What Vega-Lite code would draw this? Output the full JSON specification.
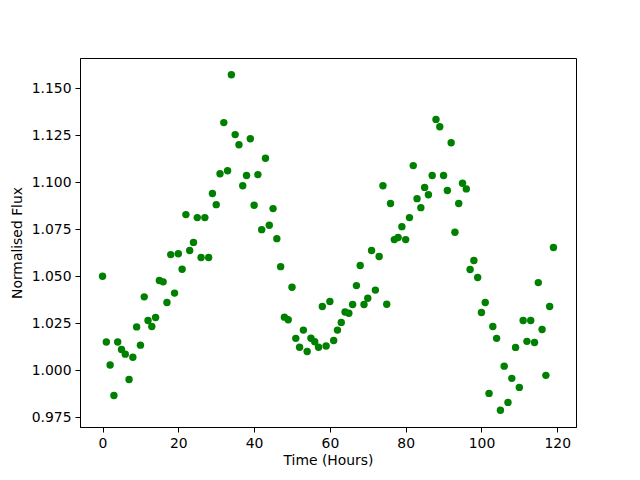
{
  "$schema": "https://vega.github.io/schema/vega-lite/v6.json",
  "width": 496,
  "height": 369,
  "autosize": {"type": "none"},
  "padding": {"left": 80, "top": 58, "right": 64, "bottom": 53},
  "background": "white",
  "data": {"values": [
    {"t":0,"f":1.050},{"t":1,"f":1.015},{"t":2,"f":1.0027},{"t":3,"f":0.9865},{"t":4,"f":1.015},
    {"t":5,"f":1.011},{"t":6,"f":1.0085},{"t":7,"f":0.995},{"t":8,"f":1.0068},{"t":9,"f":1.023},
    {"t":10,"f":1.0133},{"t":11,"f":1.039},{"t":12,"f":1.0264},{"t":13,"f":1.0232},{"t":14,"f":1.028},
    {"t":15,"f":1.0477},{"t":16,"f":1.047},{"t":17,"f":1.036},{"t":18,"f":1.0615},{"t":19,"f":1.041},
    {"t":20,"f":1.062},{"t":21,"f":1.0537},{"t":22,"f":1.0828},{"t":23,"f":1.0637},{"t":24,"f":1.068},
    {"t":25,"f":1.0812},{"t":26,"f":1.060},{"t":27,"f":1.0812},{"t":28,"f":1.060},{"t":29,"f":1.094},
    {"t":30,"f":1.0881},{"t":31,"f":1.1046},{"t":32,"f":1.1318},{"t":33,"f":1.1062},{"t":34,"f":1.1573},
    {"t":35,"f":1.1254},{"t":36,"f":1.120},{"t":37,"f":1.0982},{"t":38,"f":1.1036},{"t":39,"f":1.1232},
    {"t":40,"f":1.0878},{"t":41,"f":1.1041},{"t":42,"f":1.0748},{"t":43,"f":1.1128},{"t":44,"f":1.0771},
    {"t":45,"f":1.086},{"t":46,"f":1.070},{"t":47,"f":1.0551},{"t":48,"f":1.0282},{"t":49,"f":1.0268},
    {"t":50,"f":1.0441},{"t":51,"f":1.0169},{"t":52,"f":1.0122},{"t":53,"f":1.0213},{"t":54,"f":1.0099},
    {"t":55,"f":1.017},{"t":56,"f":1.0151},{"t":57,"f":1.0122},{"t":58,"f":1.0339},{"t":59,"f":1.0128},
    {"t":60,"f":1.0365},{"t":61,"f":1.0158},{"t":62,"f":1.0213},{"t":63,"f":1.0254},{"t":64,"f":1.0309},
    {"t":65,"f":1.0303},{"t":66,"f":1.0349},{"t":67,"f":1.045},{"t":68,"f":1.0557},{"t":69,"f":1.0349},
    {"t":70,"f":1.0383},{"t":71,"f":1.0637},{"t":72,"f":1.0426},{"t":73,"f":1.0605},{"t":74,"f":1.0982},
    {"t":75,"f":1.0351},{"t":76,"f":1.0887},{"t":77,"f":1.0695},{"t":78,"f":1.0706},{"t":79,"f":1.0764},
    {"t":80,"f":1.0695},{"t":81,"f":1.0812},{"t":82,"f":1.1089},{"t":83,"f":1.0913},{"t":84,"f":1.0865},
    {"t":85,"f":1.0973},{"t":86,"f":1.0934},{"t":87,"f":1.1036},{"t":88,"f":1.1335},{"t":89,"f":1.1296},
    {"t":90,"f":1.1036},{"t":91,"f":1.0956},{"t":92,"f":1.1211},{"t":93,"f":1.0734},{"t":94,"f":1.0887},
    {"t":95,"f":1.0995},{"t":96,"f":1.0965},{"t":97,"f":1.0536},{"t":98,"f":1.0584},{"t":99,"f":1.0493},
    {"t":100,"f":1.0307},{"t":101,"f":1.036},{"t":102,"f":0.9876},{"t":103,"f":1.0232},{"t":104,"f":1.0169},
    {"t":105,"f":0.9786},{"t":106,"f":1.0021},{"t":107,"f":0.9828},{"t":108,"f":0.9956},{"t":109,"f":1.0121},
    {"t":110,"f":0.9908},{"t":111,"f":1.0264},{"t":112,"f":1.0153},{"t":113,"f":1.0264},{"t":114,"f":1.0147},
    {"t":115,"f":1.0466},{"t":116,"f":1.0216},{"t":117,"f":0.9972},{"t":118,"f":1.0339},{"t":119,"f":1.0653}
  ]},
  "mark": {"type": "point", "filled": true, "color": "#008000", "opacity": 1, "size": 55},
  "encoding": {
    "x": {
      "field": "t", "type": "quantitative", "title": "Time (Hours)",
      "scale": {"domain": [-5.95, 124.95], "nice": false, "zero": false},
      "axis": {"values": [0, 20, 40, 60, 80, 100, 120], "format": "d"}
    },
    "y": {
      "field": "f", "type": "quantitative", "title": "Normalised Flux",
      "scale": {"domain": [0.9697, 1.1662], "nice": false, "zero": false},
      "axis": {"values": [0.975, 1.0, 1.025, 1.05, 1.075, 1.1, 1.125, 1.15], "format": ".3f"}
    }
  },
  "config": {
    "font": "DejaVu Sans",
    "view": {"stroke": "black", "strokeWidth": 1},
    "axis": {
      "grid": false,
      "domainColor": "black",
      "domainWidth": 1,
      "tickColor": "black",
      "tickWidth": 1,
      "tickSize": 5,
      "labelFont": "DejaVu Sans",
      "labelFontSize": 13.9,
      "labelColor": "black",
      "labelPadding": 4,
      "titleFont": "DejaVu Sans",
      "titleFontSize": 13.9,
      "titleFontWeight": "normal",
      "titleColor": "black"
    },
    "axisX": {"titlePadding": 4},
    "axisY": {"titlePadding": 7}
  }
}
